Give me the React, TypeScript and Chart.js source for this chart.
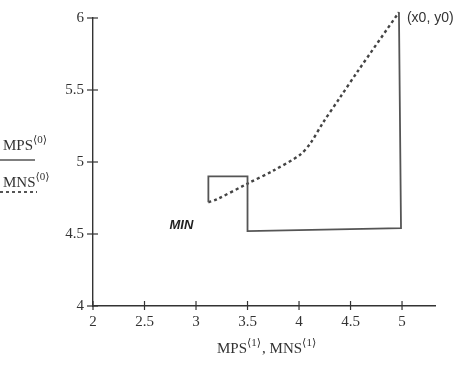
import React, { useEffect, useRef } from "react";
import { Chart, registerables } from "chart.js";

Chart.register(...registerables);

const mpsX = [3.12, 3.12, 3.5, 3.5, 4.99, 4.97];
const mpsY = [4.72, 4.9, 4.9, 4.52, 4.54, 6.04];
const mnsX = [3.12, 3.2, 3.5, 3.75, 4.01, 4.11, 4.23, 4.4, 4.57, 4.97];
const mnsY = [4.72, 4.74, 4.85, 4.94, 5.05, 5.13, 5.27, 5.45, 5.63, 6.04];
const xTicks = [2, 2.5, 3, 3.5, 4, 4.5, 5];
const yTicks = [4, 4.5, 5, 5.5, 6];

const SERIF = "'Liberation Serif', 'DejaVu Serif', serif";
const SANS = "'Liberation Sans', Arial, sans-serif";
const INK = "#333";

function drawSup(ctx: CanvasRenderingContext2D, parts: [string, string][], x: number, y: number, size: number) {
  let cx = x;
  for (const [base, sup] of parts) {
    ctx.font = `${size}px ${SERIF}`;
    ctx.fillText(base, cx, y);
    cx += ctx.measureText(base).width;
    if (sup) {
      ctx.font = `${Math.round(size * 0.7)}px ${SERIF}`;
      ctx.fillText(sup, cx, y - size * 0.45);
      cx += ctx.measureText(sup).width + 1;
    }
  }
}

const decor = {
  id: "decor",
  afterDraw(chart: any) {
    const ctx = chart.ctx as CanvasRenderingContext2D;
    const xs = chart.scales.x;
    const ys = chart.scales.y;
    const area = chart.chartArea;
    ctx.save();
    ctx.strokeStyle = INK;
    ctx.lineWidth = 1.2;
    for (const v of xTicks) {
      const px = xs.getPixelForValue(v);
      ctx.beginPath();
      ctx.moveTo(px, area.bottom - 5);
      ctx.lineTo(px, area.bottom + 4);
      ctx.stroke();
    }
    for (const v of yTicks) {
      const py = ys.getPixelForValue(v);
      ctx.beginPath();
      ctx.moveTo(area.left - 6, py);
      ctx.lineTo(area.left + 5, py);
      ctx.stroke();
    }
    ctx.fillStyle = INK;
    ctx.textBaseline = "alphabetic";
    ctx.textAlign = "left";
    drawSup(ctx, [["MPS", "⟨1⟩"], [", MNS", "⟨1⟩"]], 217, 353, 15);
    drawSup(ctx, [["MPS", "⟨0⟩"]], 3, 150, 15);
    drawSup(ctx, [["MNS", "⟨0⟩"]], 3, 187, 15);
    ctx.strokeStyle = "#555";
    ctx.lineWidth = 1.6;
    ctx.beginPath();
    ctx.moveTo(0, 160);
    ctx.lineTo(35, 160);
    ctx.stroke();
    ctx.setLineDash([3, 3]);
    ctx.lineWidth = 2;
    ctx.beginPath();
    ctx.moveTo(0, 192);
    ctx.lineTo(37, 192);
    ctx.stroke();
    ctx.setLineDash([]);
    const sx = xs.getPixelForValue(mpsX[0]);
    const sy = ys.getPixelForValue(mpsY[0]);
    ctx.font = `italic bold 13px ${SANS}`;
    ctx.textAlign = "center";
    ctx.textBaseline = "middle";
    ctx.fillStyle = "#222";
    ctx.fillText("MIN", sx - 27, sy + 23);
    const ex = xs.getPixelForValue(mpsX[mpsX.length - 1]);
    const ey = ys.getPixelForValue(mpsY[mpsY.length - 1]);
    ctx.font = `14px ${SANS}`;
    ctx.textAlign = "left";
    ctx.fillStyle = INK;
    ctx.fillText("(x0, y0)", ex + 8, ey + 6);
    ctx.restore();
  },
};

export default function App() {
  const ref = useRef<HTMLCanvasElement>(null);
  useEffect(() => {
    document.body.style.margin = "0";
    const chart = new Chart(ref.current!, {
      type: "line",
      data: {
        datasets: [
          {
            label: "MPS",
            data: mpsX.map((x, i) => ({ x, y: mpsY[i] })),
            borderColor: "#555",
            borderWidth: 1.8,
            pointRadius: 0,
            tension: 0,
            fill: false,
            clip: false as any,
          },
          {
            label: "MNS",
            data: mnsX.map((x, i) => ({ x, y: mnsY[i] })),
            borderColor: "#444",
            borderWidth: 2.4,
            borderDash: [3, 3],
            pointRadius: 0,
            tension: 0.3,
            fill: false,
            clip: false as any,
          },
        ],
      },
      options: {
        animation: false,
        responsive: false,
        layout: { padding: { left: 53, right: 35, top: 18, bottom: 34 } },
        plugins: { legend: { display: false }, tooltip: { enabled: false } },
        scales: {
          x: {
            type: "linear",
            min: 2,
            max: 5.32,
            afterFit: (s: any) => { s.height = 30; },
            afterBuildTicks: (s: any) => { s.ticks = xTicks.map((v) => ({ value: v })); },
            ticks: {
              padding: 7,
              font: { family: SERIF, size: 15 },
              color: INK,
              callback: (v: any) => String(v),
              maxRotation: 0,
              autoSkip: false,
            },
            grid: { display: false, drawTicks: false },
            border: { display: true, color: INK, width: 1.4 },
          },
          y: {
            type: "linear",
            min: 4,
            max: 6,
            afterFit: (s: any) => { s.width = 40; },
            afterBuildTicks: (s: any) => { s.ticks = yTicks.map((v) => ({ value: v })); },
            ticks: {
              padding: 9,
              font: { family: SERIF, size: 15 },
              color: INK,
              callback: (v: any) => String(v),
              autoSkip: false,
            },
            grid: { display: false, drawTicks: false },
            border: { display: true, color: INK, width: 1.4 },
          },
        },
      },
      plugins: [decor],
    });
    return () => chart.destroy();
  }, []);
  return <canvas ref={ref} width={470} height={370} style={{ display: "block" }} />;
}
